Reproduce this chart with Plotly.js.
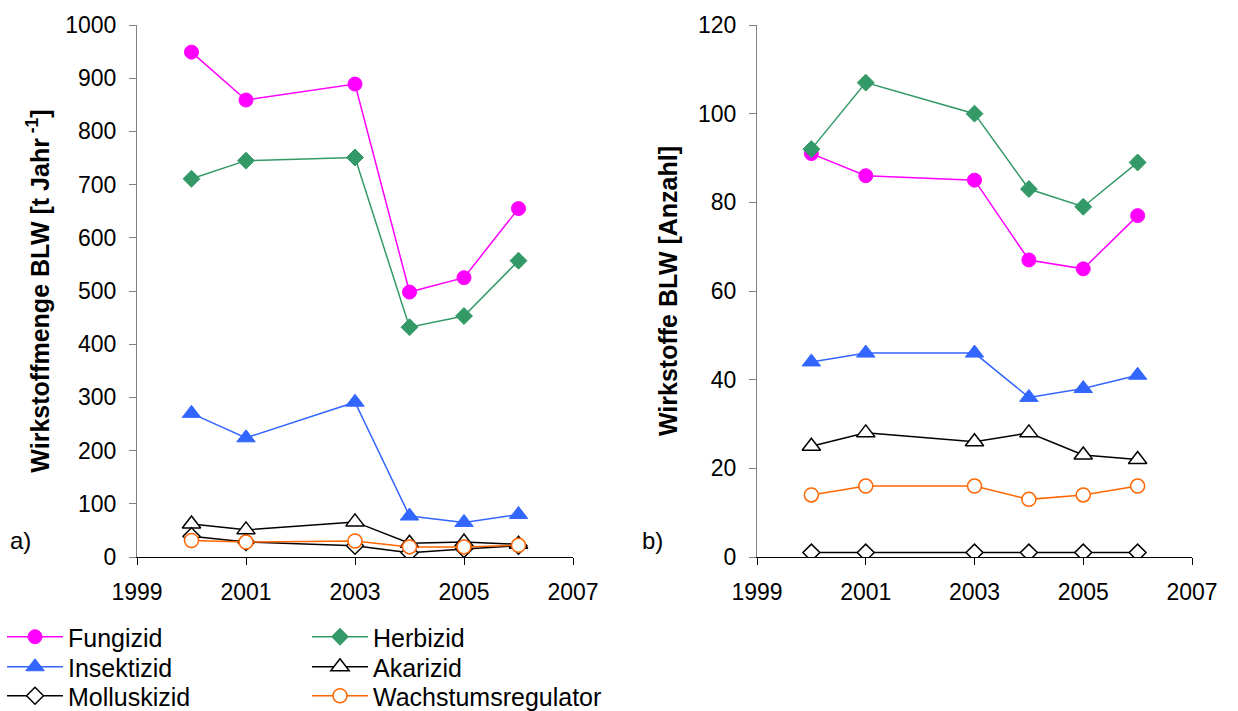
<!DOCTYPE html>
<html>
<head>
<meta charset="utf-8">
<script src="https://cdn.plot.ly/plotly-3.0.1.min.js"></script>
<style>html,body{margin:0;padding:0;background:#fff;}#chart{width:1238px;height:711px;}</style>
</head>
<body>
<div id="chart"></div>
<script>
const years = [2000, 2001, 2003, 2004, 2005, 2006];
const seriesNames = ["Fungizid", "Herbizid", "Insektizid", "Akarizid", "Molluskizid", "Wachstumsregulator"];

// a) Wirkstoffmenge [t / Jahr]
const fungizidMenge = [949, 859, 889, 498, 525, 655];
const herbizidMenge = [711, 745, 751, 432, 453, 557];
const insektizidMenge = [270, 224, 291, 77, 65, 80];
const akarizidMenge = [62, 51, 66, 26, 28, 24];
const molluskizidMenge = [39, 28, 21, 8, 15, 21];
const wachstumMenge = [31, 28, 30, 19, 19, 22];

// b) Anzahl Wirkstoffe
const fungizidAnzahl = [91, 86, 85, 67, 65, 77];
const herbizidAnzahl = [92, 107, 100, 83, 79, 89];
const insektizidAnzahl = [44, 46, 46, 36, 38, 41];
const akarizidAnzahl = [25, 28, 26, 28, 23, 22];
const molluskizidAnzahl = [1, 1, 1, 1, 1, 1];
const wachstumAnzahl = [14, 16, 16, 13, 14, 16];

const styles = [
  {color: "#FF00FF", marker: {symbol: "circle", size: 14, color: "#FF00FF", line: {color: "#FF00FF", width: 1}}},
  {color: "#339966", marker: {symbol: "diamond", size: 13, color: "#339966", line: {color: "#339966", width: 1}}},
  {color: "#3366FF", marker: {symbol: "triangle-up", size: 16, color: "#3366FF", line: {color: "#3366FF", width: 1}}},
  {color: "#000000", marker: {symbol: "triangle-up", size: 16, color: "#FFFFFF", line: {color: "#000000", width: 1.5}}},
  {color: "#000000", marker: {symbol: "diamond", size: 13, color: "#FFFFFF", line: {color: "#000000", width: 1.5}}},
  {color: "#FF6600", marker: {symbol: "circle", size: 14, color: "#FFFFFF", line: {color: "#FF6600", width: 1.5}}}
];
// one single-entry legend per series, laid out as a 2-column grid
const legendIds = ["legend", "legend2", "legend3", "legend4", "legend5", "legend6"];
const legendCol = [0, 1, 0, 1, 0, 1];
const legendRow = [0, 0, 1, 1, 2, 2];

const mengeData = [fungizidMenge, herbizidMenge, insektizidMenge, akarizidMenge, molluskizidMenge, wachstumMenge];
const anzahlData = [fungizidAnzahl, herbizidAnzahl, insektizidAnzahl, akarizidAnzahl, molluskizidAnzahl, wachstumAnzahl];

const traces = [];
seriesNames.forEach((name, i) => {
  traces.push({
    x: years, y: mengeData[i], name: name, type: "scatter", mode: "lines+markers",
    xaxis: "x", yaxis: "y",
    line: {color: styles[i].color, width: 1.5}, marker: styles[i].marker,
    legend: legendIds[i], showlegend: true
  });
});
seriesNames.forEach((name, i) => {
  traces.push({
    x: years, y: anzahlData[i], name: name, type: "scatter", mode: "lines+markers",
    xaxis: "x2", yaxis: "y2",
    line: {color: styles[i].color, width: 1.5}, marker: styles[i].marker,
    showlegend: false
  });
});

const FAM = "Liberation Sans, Arial, sans-serif";
const W = 1238, H = 711;
const tickFont = {family: FAM, size: 23, color: "#000"};
const titleFont = {family: FAM, size: 25, color: "#000", weight: "bold"};
const xBase = {
  range: [1999, 2007], tick0: 1999, dtick: 2, ticks: "outside", ticklen: 7, tickcolor: "#000",
  showline: true, linecolor: "#000", linewidth: 1, showgrid: false, zeroline: false,
  tickfont: tickFont, ticklabelstandoff: 7
};
const yBase = {
  domain: [1 - 557 / H, 1 - 25 / H], ticks: "outside", ticklen: 7, tickcolor: "#808080",
  showline: true, linecolor: "#808080", showgrid: false, zeroline: false, tickfont: tickFont,
  ticklabelstandoff: 8
};

const layout = {
  width: W, height: H,
  margin: {l: 0, r: 0, t: 0, b: 0, autoexpand: false},
  paper_bgcolor: "#fff", plot_bgcolor: "#fff",
  font: {family: FAM, color: "#000"},
  xaxis: Object.assign({}, xBase, {domain: [137 / W, 573 / W], anchor: "y"}),
  yaxis: Object.assign({}, yBase, {
    range: [0, 1000], dtick: 100, anchor: "x",
    title: {text: "Wirkstoffmenge BLW [t Jahr<sup> -1</sup>]", font: titleFont, standoff: 8}
  }),
  xaxis2: Object.assign({}, xBase, {domain: [757 / W, 1192 / W], anchor: "y2"}),
  yaxis2: Object.assign({}, yBase, {
    range: [0, 120], dtick: 20, anchor: "x2",
    title: {text: "Wirkstoffe BLW [Anzahl]", font: titleFont, standoff: 13}
  }),
  annotations: [
    {text: "a)", xref: "paper", yref: "paper", x: 8 / W, y: 1 - 540 / H, xanchor: "left", yanchor: "middle",
     showarrow: false, font: {family: FAM, size: 24, color: "#000"}},
    {text: "b)", xref: "paper", yref: "paper", x: 640 / W, y: 1 - 540 / H, xanchor: "left", yanchor: "middle",
     showarrow: false, font: {family: FAM, size: 24, color: "#000"}}
  ]
};

const colX = [2, 307];
const rowY = [637, 667, 696];
legendIds.forEach((id, i) => {
  layout[id] = {
    x: colX[legendCol[i]] / W, y: 1 - rowY[legendRow[i]] / H,
    xanchor: "left", yanchor: "middle", orientation: "v",
    font: {family: FAM, size: 25, color: "#000"},
    bgcolor: "rgba(0,0,0,0)", itemwidth: 56, borderwidth: 0
  };
});

Plotly.newPlot("chart", traces, layout, {displayModeBar: false, staticPlot: true});
</script>
</body>
</html>
